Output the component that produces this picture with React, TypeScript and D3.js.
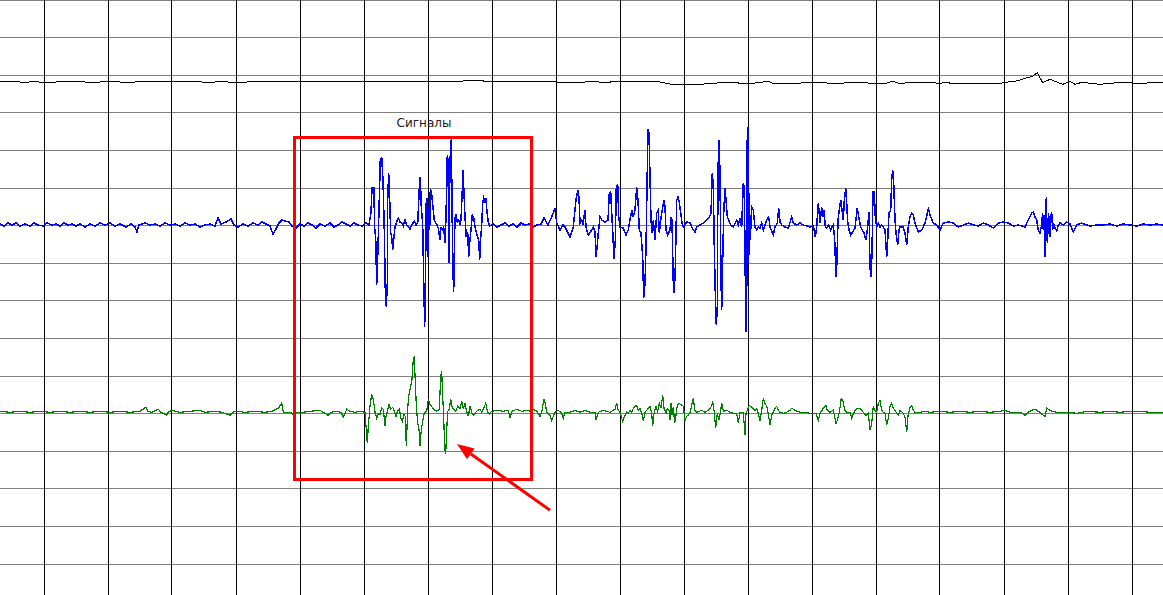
import React from "react";
import * as d3 from "d3";

// ---------- data ----------
// x: sample index (64 samples per grid division), value: amplitude units (37.6 units per division, up = positive)
const SAMPLES_PER_DIV = 64;
const FIRST_GRID_SAMPLE = 44;
const UNITS_PER_DIV = 37.6;
const TOTAL_SAMPLES = 1163;
const TOTAL_DIVS = 595 / 37.6;

const channelNames = ["ref", "ch1", "ch2"];
const channelBaselines = [2.181, 5.984, 10.965]; // in divisions from top
const channelColors = ["#000000", "#0000ff", "#008000"];
const channelWidths = [1, 1.5, 1.2];

const refSignal: [number, number][] = [[0,0.3],[20,0],[25,-1],[32,0.7],[50,-1],[60,0.7],[83,0.3],[90,-1],[100,0],[107,1],[115,0.7],[128,-1],[140,0.7],[167,0.7],[200,0.3],[210,-1],[220,1],[233,-0.7],[253,0.3],[267,0.7],[290,0.3],[300,0.7],[317,0],[340,0.7],[350,0],[367,0.7],[380,0.3],[400,0],[407,1],[430,0.3],[440,0],[447,0.7],[463,1],[470,1.3],[480,1.3],[487,0.7],[510,0.7],[530,1],[547,1],[557,0],[573,-1],[593,0.7],[607,-1],[613,0.7],[647,0.7],[660,0],[670,-2],[680,-2.3],[700,-2.3],[713,-1.3],[730,0],[747,-2],[768,0.7],[775,-2],[797,-1.3],[813,0],[837,-1.7],[853,0],[883,-2],[893,0.7],[900,-1.7],[910,-0.3],[927,-0.3],[940,-1.3],[947,-0.3],[953,-2],[967,-1.3],[990,-2],[1000,-1.3],[1010,0.3],[1018,1.3],[1025,3.7],[1031.7,5.3],[1037.3,9.3],[1042.7,-0.7],[1050,2.7],[1056,0.3],[1062.7,-2.3],[1070,0.7],[1075,-2.3],[1082,-0.3],[1100,-2.3],[1117,-0.7],[1133,-1],[1147,-1],[1157,0],[1163,-1]];

const blueSignal: [number, number][] = [[0,1],[4,-1],[8,2],[12,0],[16,2],[20,-1],[25,1],[30,-1],[34,2],[38,0],[43,-1],[47,2],[52,0],[56,1],[60,-1],[64,2],[68,0],[72,1],[76,-1],[80,1],[85,-2],[90,1],[95,-1],[100,2],[105,0],[110,2],[115,-1],[120,1],[126,-2],[131,1],[135,-2],[137,-7],[139,0],[145,2],[150,0],[155,1],[160,-1],[165,2],[170,0],[175,1],[180,-1],[185,2],[190,0],[195,1],[200,-2],[205,0],[210,1],[215,-1],[218,7],[221,1],[226,3],[231,6],[234,0],[238,-2],[243,1],[248,-1],[253,2],[258,0],[262,3],[266,1],[270,-1],[273,-9],[276,-4],[279,2],[282,5],[285,4],[289,3],[292,-1],[296,-3],[300,1],[304,-1],[308,2],[312,0],[316,-3],[320,1],[325,-1],[330,2],[334,-2],[338,0],[342,3],[346,1],[350,-1],[354,2],[358,0],[362,-1],[366,2],[369,0],[371,12],[372,37],[374,37],[374.5,-1],[375.7,-13],[376.7,-60],[377.7,-32],[379,15],[380.3,65],[381.7,68],[383,45],[384.3,-5],[385.3,-65],[386.3,-82],[387.3,-58],[387.7,25],[388.7,52],[389.7,25],[390.7,-8],[391.7,-12],[392.7,-25],[393.7,-15],[395,-2],[396.7,3],[398.3,7],[400,3],[401.7,2],[403.3,-1],[405,5],[406.7,0],[408.3,-2],[410,-4],[411.7,0],[414.3,4],[416,0],[417.7,2],[419.3,37],[420.3,48],[421.3,18],[422.7,0],[423.7,-55],[424.7,-102],[425.7,-32],[426.3,25],[427,27],[428,-32],[429,18],[429.7,-5],[430.3,35],[431.3,34],[432.3,25],[433.3,15],[434.3,5],[435.7,2],[437,0],[438.3,-3],[440,-15],[441,-2],[442.3,-5],[443.7,-2],[445,-18],[446,8],[447.3,70],[448,65],[449,-38],[450,65],[451.3,86],[452.3,-2],[453,-48],[453.7,-67],[454.3,-25],[455,7],[456,10],[457.3,3],[458.7,5],[460,0],[461,5],[462.3,35],[463,55],[464,32],[465,8],[466.3,-12],[467.7,-7],[468.7,-32],[469.7,-18],[471,-5],[472.3,10],[473.7,7],[475,-2],[476.3,-7],[477.7,-12],[478.7,-15],[479.7,-35],[480.3,-18],[481.7,0],[482.7,22],[483.7,27],[485,23],[486,27],[487,13],[488.3,3],[489.7,-1],[493,1],[497,-2],[501,0],[505,2],[509,-1],[513,1],[517,-2],[521,2],[525,0],[529,1],[533,-2],[537,0],[541,1],[544,7],[548,0],[551.7,8],[553.3,12],[555,17],[556.7,2],[560,-5],[563,0],[565,-2],[570,-12],[573.3,-2],[576,25],[577.7,35],[579,28],[580,2],[581.7,5],[583,0],[585,15],[586,-2],[588.3,-10],[591.7,-5],[593.3,-2],[595,-7],[596,-32],[597.3,-20],[598.3,-8],[600,8],[601.7,5],[605,3],[608,5],[609.3,32],[610.7,33],[611.7,12],[612.7,-5],[614,-34],[615.3,-15],[616.3,38],[617.7,41],[618.7,8],[620,-2],[623.3,-3],[626,-10],[628.3,-5],[631.7,15],[633.3,8],[635,15],[636.7,38],[638,25],[639.3,-5],[641,-8],[642.7,-32],[643.7,-73],[645,-58],[646,-22],[647,38],[648,96],[649,92],[650,48],[651,5],[652.3,-8],[653.3,5],[655,-15],[656.7,12],[658.3,15],[659.3,-8],[660.7,5],[662.7,18],[664,25],[665,18],[666,-5],[667.7,-10],[670,-5],[671,8],[672,5],[673.3,-58],[674.3,-68],[675.3,-42],[676.7,25],[678,28],[679.3,23],[680.7,12],[682,2],[683.3,-2],[686.7,3],[690,2],[693.3,-5],[695,-7],[696.7,-2],[700,0],[703.3,2],[706.7,5],[709.3,8],[711,12],[712.3,52],[713.3,38],[714.3,-22],[715.3,-68],[716.3,-100],[717.3,-82],[718,55],[719,85],[720,52],[721,-55],[721.7,-85],[722.7,-35],[723.7,12],[725,37],[726,25],[727.3,8],[728.7,5],[730.7,0],[733.3,-2],[736.7,5],[738.3,0],[740,7],[741.7,-2],[743.3,42],[744.3,38],[745.3,-55],[746,-107],[746.7,-82],[747.3,95],[748,98],[748.7,-38],[749.3,32],[750.3,-15],[751.7,18],[753.3,15],[755,-2],[756.7,-5],[758.3,-2],[760,-3],[761.7,2],[763.3,-5],[766.7,5],[768.7,8],[770,-2],[773.3,-10],[775,-2],[777.3,2],[778.7,17],[780,3],[781.7,0],[785,-2],[788.3,-3],[791.7,8],[793.3,2],[796.7,0],[800,2],[803.3,0],[806.7,-1],[810,-2],[813.3,-1],[815.3,-12],[816.7,-2],[818.3,22],[820,2],[821.7,18],[822.7,8],[824,15],[825.3,-2],[826.7,-3],[828.7,0],[830.7,-5],[832,-2],[833.3,0],[834.7,-15],[836,-52],[836.7,-42],[838,5],[839.3,15],[840.7,25],[842,15],[843.3,5],[844.3,25],[845.7,37],[846.7,22],[847.7,3],[849,-5],[850.7,-10],[852.7,-7],[855,-3],[857.3,17],[858.7,8],[860.7,-2],[862.3,-5],[864,-8],[866,-15],[867.7,-2],[869,13],[870,-42],[871,-52],[872,-28],[873,33],[874.3,33],[875.3,8],[876.7,-2],[878.3,2],[880,-2],[881.7,0],[883.3,-2],[885,-5],[886.7,-32],[887.7,-15],[889,12],[890.7,15],[891.7,45],[892.7,55],[893.7,42],[895,5],[896,-8],[897.7,-20],[899,-5],[900,-2],[903,-2],[905,-8],[906.7,-20],[908.3,-2],[910,8],[911.7,12],[913.3,10],[915,2],[918.3,-7],[921.7,-5],[925,2],[928.3,16],[930.7,8],[933.3,2],[936.7,0],[940,-5],[943.3,2],[948.3,3],[953.3,2],[958.3,-2],[963.3,0],[968.3,2],[973.3,0],[978.3,-1],[983.3,2],[988.3,0],[993.3,-3],[998.3,2],[1003.3,3],[1008.3,2],[1013.3,-1],[1018.3,0],[1025,-2],[1028.3,5],[1031.7,12],[1033.3,13],[1035,8],[1036.7,5],[1038.3,-5],[1040,-8],[1041.7,0],[1042.5,12],[1043.3,-5],[1044,10],[1045,-32],[1045.7,5],[1046.3,28],[1047.3,-18],[1048,2],[1048.7,12],[1049.3,-10],[1050,-12],[1050.7,10],[1051.7,12],[1052.7,-5],[1053.3,2],[1055,-3],[1056.7,-6],[1058.3,0],[1060,2],[1063.3,0],[1066.7,3],[1070,1],[1073.3,-7],[1076.7,0],[1081.7,2],[1086.7,0],[1090,-1],[1096.7,0],[1103.3,0],[1110,1],[1116.7,-1],[1123.3,1],[1130,0],[1136.7,-1],[1143.3,1],[1150,0],[1156.7,1],[1163,0]];

const greenSignal: [number, number][] = [[0,1],[10,0],[20,1],[30,0],[40,1],[50,0],[60,1],[70,0],[80,1],[90,0],[100,1],[110,0],[120,1],[130,0],[140,1],[145.7,5],[148,1],[152,0],[158.3,3],[161,0],[166.7,-3],[168,0],[172,2],[180,0],[190,1],[200,2],[205,0],[215,1],[222,0],[230,-3],[233,0],[236,1],[245,0],[255,1],[265,0],[272,1],[278.3,4],[281.7,9],[283.3,0],[286,0],[290,0],[293.3,-2],[296,0],[303,0],[310,1],[320,2],[323,0],[328.3,-3],[331,0],[335,1],[341,0],[343.3,-5],[346.7,3],[350,1],[355,0],[360,1],[365,0],[367.3,-31],[368.3,-14],[370,6],[371.7,18],[373.3,13],[375,0],[376.7,-6],[378.3,-1],[380,-2],[381.7,4],[383.3,3],[385,-14],[386,-4],[387.3,1],[389,8],[390.7,3],[392.7,5],[394.3,1],[396,-4],[397.3,1],[399.3,3],[401,-6],[402.3,-9],[404,-2],[405.3,-4],[406.3,-34],[407.7,4],[408.7,16],[410,23],[411,28],[412,33],[413.3,53],[414.3,56],[415.3,29],[416.3,8],[417.7,-11],[419,-17],[420,-34],[421.3,-17],[422.7,-9],[424,-2],[425.3,0],[426.7,1],[428.3,13],[430,8],[431.7,6],[433.3,3],[436.7,1],[439.3,3],[440.7,36],[441.7,41],[442.7,16],[443.7,-5],[444.7,-36],[445.7,-42],[446.7,-17],[447.7,1],[449.3,3],[450.7,13],[452.3,4],[454,3],[455.7,1],[457.7,6],[460,4],[461.7,11],[463.3,3],[465,9],[466.7,1],[468.3,-4],[470,6],[471.7,0],[473.3,-3],[476.7,1],[480,3],[481.7,0],[483.3,3],[485.7,9],[487.3,1],[489.3,-2],[491.7,1],[496.7,2],[503.3,1],[508.3,2],[510,-6],[511.7,1],[516.7,3],[521.7,1],[526.7,2],[530,1],[533.3,3],[536.7,1],[540,-4],[541.7,0],[544,13],[545.3,9],[546.7,0],[550,-3],[551.7,-8],[553.3,-4],[555,0],[558.3,2],[561.7,-1],[563.3,-6],[565,0],[570,0],[575,2],[580,0],[585,2],[590,0],[595,0],[596,-8],[598.3,0],[603.3,2],[610,0],[615,3],[616.7,9],[618.3,2],[620,0],[622.7,-9],[625,-3],[626.7,0],[628.3,-1],[630,2],[631.7,0],[633.3,4],[635,6],[636.7,7],[638.3,2],[640,4],[641.7,-1],[643.3,-9],[645,0],[646.7,2],[650,6],[651.7,-1],[652.7,-14],[654,-1],[656,6],[657.7,1],[659.3,9],[661,4],[662.7,17],[664,4],[666,-1],[667.3,4],[669,2],[670,-8],[671,9],[672,-3],[673.3,5],[674.7,-11],[676,-3],[677.3,7],[679.3,9],[681.7,7],[683.3,6],[685,-8],[686.7,-4],[688.3,-3],[690,0],[691.7,7],[693.3,14],[694.7,2],[696.7,0],[699.3,1],[701.7,2],[705,0],[708.3,2],[711.7,6],[712.7,11],[714,2],[715.7,-16],[717.3,-1],[719,-8],[720.3,-1],[721.7,9],[723.3,1],[726.7,2],[730,0],[733.3,-1],[736.7,-1],[738.3,-11],[740,0],[743.3,0],[745,-23],[746,-1],[747.3,2],[749.3,7],[751.7,5],[755,2],[756.7,4],[758.3,-1],[760,-9],[761.7,2],[763.3,14],[765,9],[766.7,6],[768.3,-1],[770,-13],[771.7,-3],[775,4],[776.7,6],[778.3,2],[780,0],[783.3,-1],[786.7,0],[790,2],[791.7,4],[795,2],[800,0],[805,0],[810,-1],[816,-1],[818.3,-8],[820,-1],[823.3,4],[826,7],[827.3,2],[830,0],[833.3,2],[836,-11],[837.3,-8],[839.3,0],[841.3,14],[842.7,12],[844.7,2],[846.7,0],[850,0],[851.7,-6],[853.3,-1],[856.7,4],[860,4],[863.3,0],[866,-3],[868.3,-1],[870,-18],[871.7,-11],[873.3,6],[875,2],[876.7,0],[878.3,9],[880,12],[881.7,2],[883.3,0],[885,-1],[886.7,-13],[888.3,-6],[890,6],[891.7,9],[893.3,4],[895,2],[896.7,-1],[898.3,-3],[900,2],[903.3,-1],[905,-5],[906.7,-20],[908,-3],[910,5],[911.7,7],[913.3,2],[915,0],[920,0],[925,1],[930,0],[940,1],[950,0],[960,1],[970,0],[980,1],[990,0],[1000,1],[1005,2],[1010,0],[1020,0],[1025,-3],[1028,0],[1031.7,2],[1035,3],[1038.3,1],[1043.3,-3],[1045,-4],[1046.7,4],[1048.3,3],[1051.7,1],[1056.7,0],[1066.7,0],[1076.7,-1],[1086.7,1],[1100,0],[1110,1],[1120,0],[1130,1],[1140,1],[1150,0],[1163,0]];

// annotation (sample / division coordinates)
const annotationLabel = "Сигналы";
const boxSamples = [294.5, 531];
const boxDivs = [3.657, 12.745];
const labelPos = [424, 3.38];
const arrowFrom = [550, 13.57];
const arrowTo = [457, 11.81];

const signals = [refSignal, blueSignal, greenSignal];

export default function App() {
  const W = 1163;
  const H = 595;
  const x = d3.scaleLinear().domain([0, TOTAL_SAMPLES]).range([0, W]);
  const y = d3.scaleLinear().domain([0, TOTAL_DIVS]).range([0, H]);

  const vGrid = d3.range(FIRST_GRID_SAMPLE, TOTAL_SAMPLES, SAMPLES_PER_DIV);
  const hGrid = d3.range(0, Math.floor(TOTAL_DIVS) + 1);

  const paths = signals.map((sig, i) => {
    const base = channelBaselines[i];
    const line = d3
      .line<[number, number]>()
      .x((d) => x(d[0]))
      .y((d) => y(base - d[1] / UNITS_PER_DIV));
    return line(sig) || "";
  });

  // arrow geometry from scales
  const tx = x(arrowTo[0]), ty = y(arrowTo[1]);
  const fx = x(arrowFrom[0]), fy = y(arrowFrom[1]);
  const len = Math.hypot(tx - fx, ty - fy);
  const ux = (tx - fx) / len, uy = (ty - fy) / len;
  const headL = 17, headW = 6.5;
  const bx = tx - ux * headL, by = ty - uy * headL;
  const nx = -uy, ny = ux;
  const head = `M${tx},${ty}L${bx + nx * headW},${by + ny * headW}L${bx - nx * headW},${by - ny * headW}Z`;

  return (
    <div style={{ position: "fixed", left: 0, top: 0 }}>
      <svg width={W} height={H} style={{ display: "block", background: "#fff" }}>
        <rect x={0} y={0} width={W} height={H} fill="#ffffff" />
        <g shapeRendering="crispEdges">
          {hGrid.map((k) => {
            const yy = Math.floor(y(k)) + 0.5;
            return <line key={"h" + k} x1={0} x2={W} y1={yy} y2={yy} stroke="#808080" strokeWidth={1} />;
          })}
          {vGrid.map((s) => {
            const xx = Math.floor(x(s)) + 0.5;
            return <line key={"v" + s} x1={xx} x2={xx} y1={0} y2={H} stroke="#000000" strokeWidth={1} />;
          })}
        </g>
        {paths.map((p, i) => (
          <path
            key={channelNames[i]}
            d={p}
            fill="none"
            stroke={channelColors[i]}
            strokeWidth={channelWidths[i]}
            strokeLinejoin="miter"
            shapeRendering="crispEdges"
          />
        ))}
        <rect
          x={x(boxSamples[0])}
          y={y(boxDivs[0])}
          width={x(boxSamples[1]) - x(boxSamples[0])}
          height={y(boxDivs[1]) - y(boxDivs[0])}
          fill="none"
          stroke="#ff0000"
          strokeWidth={3}
          shapeRendering="crispEdges"
        />
        <text
          x={x(labelPos[0])}
          y={y(labelPos[1])}
          textAnchor="middle"
          fontFamily="DejaVu Sans, sans-serif"
          fontSize={12}
          fill="#222"
        >
          {annotationLabel}
        </text>
        <line x1={fx} y1={fy} x2={bx} y2={by} stroke="#ff0000" strokeWidth={3} />
        <path d={head} fill="#ff0000" />
      </svg>
    </div>
  );
}
